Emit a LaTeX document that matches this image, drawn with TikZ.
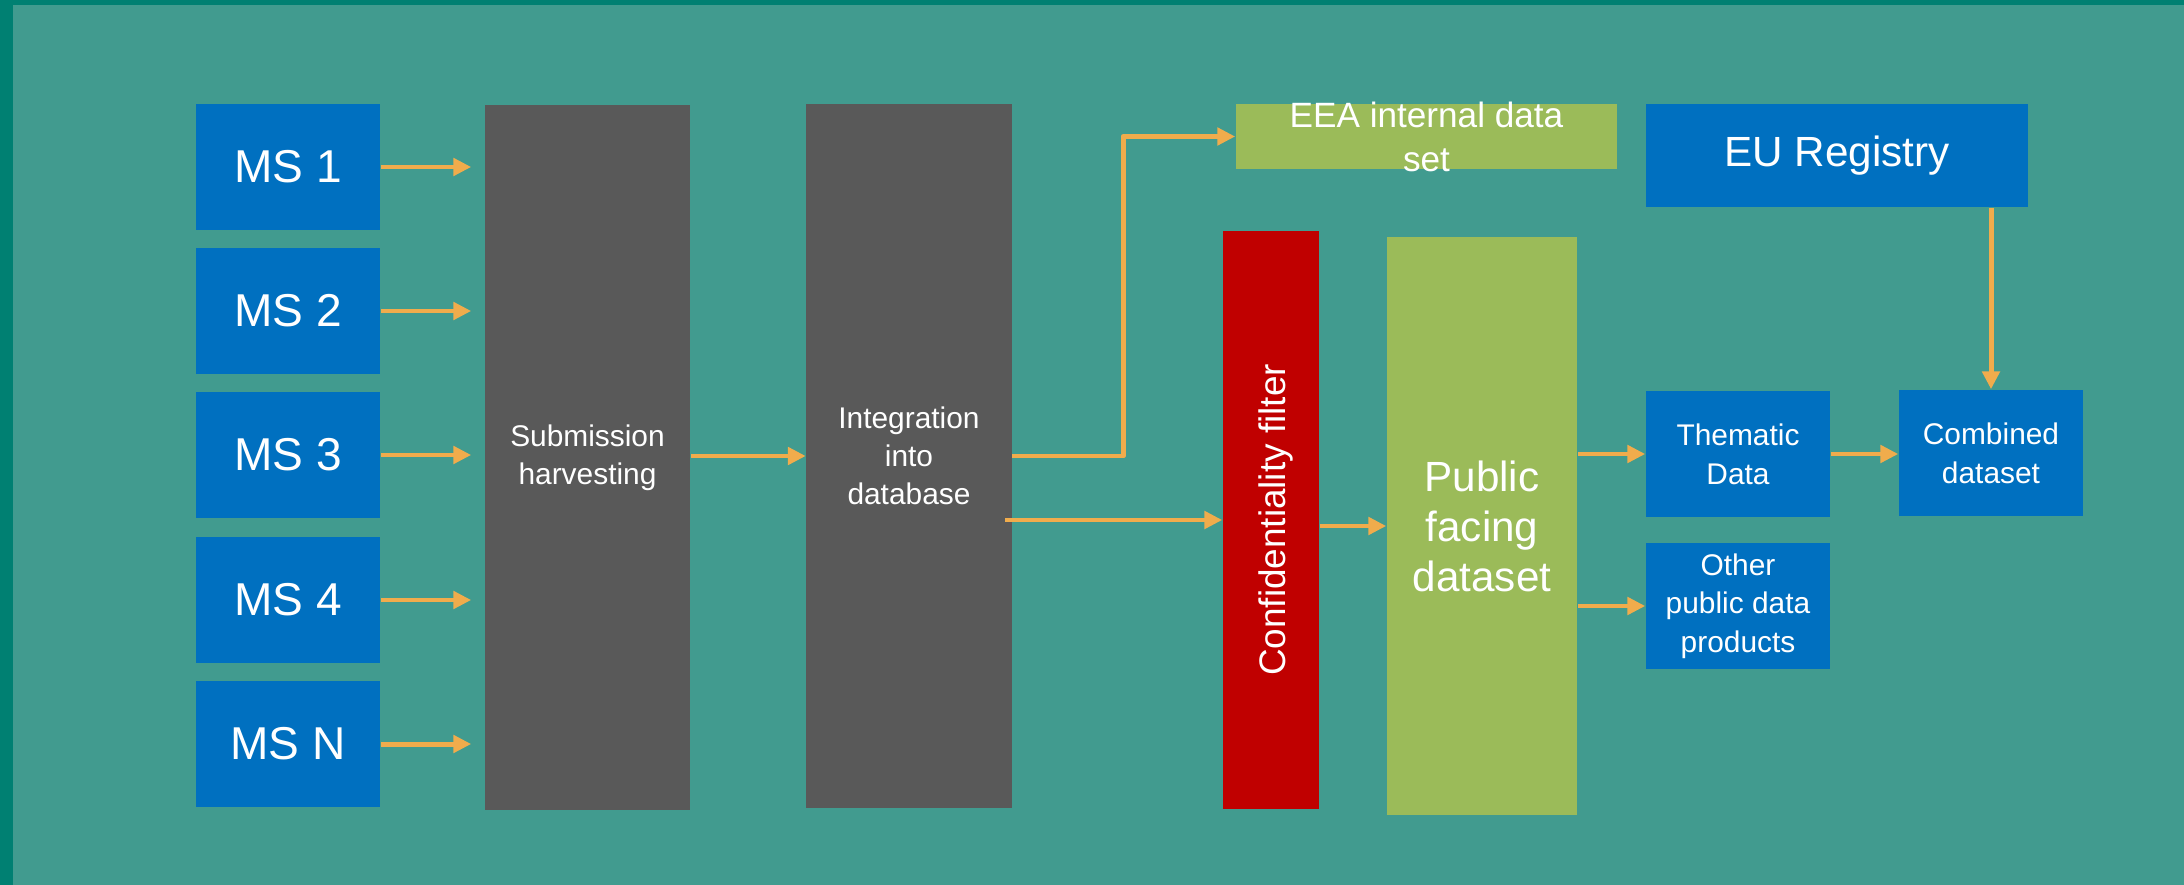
\documentclass[tikz,border=0pt]{standalone}
\usepackage{fontspec}
\setmainfont{Liberation Sans}
\usetikzlibrary{arrows.meta}
\definecolor{bgteal}{RGB}{65,155,143}
\definecolor{edgeteal}{RGB}{0,128,114}
\definecolor{msblue}{RGB}{0,112,192}
\definecolor{stepgray}{RGB}{89,89,89}
\definecolor{filterred}{RGB}{192,0,0}
\definecolor{datagreen}{RGB}{155,187,89}
\definecolor{floworange}{RGB}{240,172,76}
\tikzset{>={Triangle[length=5.1pt,width=4.9pt]}}
\tikzset{
  box/.style={inner sep=0pt, text=white, align=center},
  msbox/.style={box, fill=msblue, minimum width=1.84cm, minimum height=1.26cm, font=\fontsize{13.1}{15.7}\selectfont},
  graybox/.style={box, fill=stepgray, minimum width=2.05cm, minimum height=7.04cm, font=\fontsize{8.5}{10.8}\selectfont},
  smallbox/.style={box, fill=msblue, minimum width=1.84cm, minimum height=1.26cm, font=\fontsize{8.5}{11}\selectfont},
  flow/.style={->, draw=floworange, line width=1.42pt, line join=round}
}

\begin{document}
\begin{tikzpicture}[x=0.01cm, y=-0.01cm]
\fill[edgeteal] (0,0) rectangle (2184,885);
\fill[bgteal] (13,5) rectangle (2184,885);
% member states
\foreach \n/\y in {1/167, 2/311, 3/455, 4/600, N/744}
  \node[msbox] (ms\n) at (288,\y) {MS \n};
\node[graybox] (harvest) at (587.5,457.5) {Submission\\harvesting};
\node[graybox] (integ) at (909,456) {Integration\\into\\database};
\node[box, fill=datagreen, minimum width=3.81cm, minimum height=0.65cm] (eea) at (1426.5,136.5) {};
\node[box, font=\fontsize{10}{12.5}\selectfont] (eealabel) at (eea) {EEA internal data\\set};
\node[box, fill=msblue, minimum width=3.82cm, minimum height=1.03cm, font=\fontsize{12}{14.2}\selectfont] (eu) at (1837,155.5) {EU Registry};
\node[box, fill=filterred, minimum width=0.96cm, minimum height=5.78cm] (conf) at (1271,520) {};
\node[box, rotate=90, font=\fontsize{10.5}{12.6}\selectfont] (conflabel) at ([xshift=0.05cm]conf.center) {Confidentiality filter};
\node[box, fill=datagreen, minimum width=1.9cm, minimum height=5.78cm, font=\fontsize{12}{14.2}\selectfont] (public) at (1482,526) {Public\\facing\\dataset};
\node[smallbox] (thematic) at (1738,454) {Thematic\\Data};
\node[smallbox] (other) at (1738,606) {Other\\public data\\products};
\node[smallbox] (combined) at (1991,453) {Combined\\dataset};
\coordinate (bend) at (1123,456);

\foreach \n in {1,2,3,4,N}
  \draw[flow, shorten >=0.13cm] (ms\n.east) -- (ms\n.east -| harvest.west);
\draw[flow] (harvest.east |- integ.west) -- (integ.west);
\draw[flow] (integ.east) -- (bend) |- (eea.west);
\draw[flow] ([xshift=-0.07cm]integ.east |- conf.west) -- (conf.west);
\draw[flow] (conf.east |- public.west) -- (public.west);
\draw[flow] (public.east |- thematic.west) -- (thematic.west);
\draw[flow] (public.east |- other.west) -- (other.west);
\draw[flow] (thematic.east) -- (combined.west |- thematic.east);
\draw[flow] (eu.south -| combined.north) -- (combined.north);
\end{tikzpicture}
\end{document}
